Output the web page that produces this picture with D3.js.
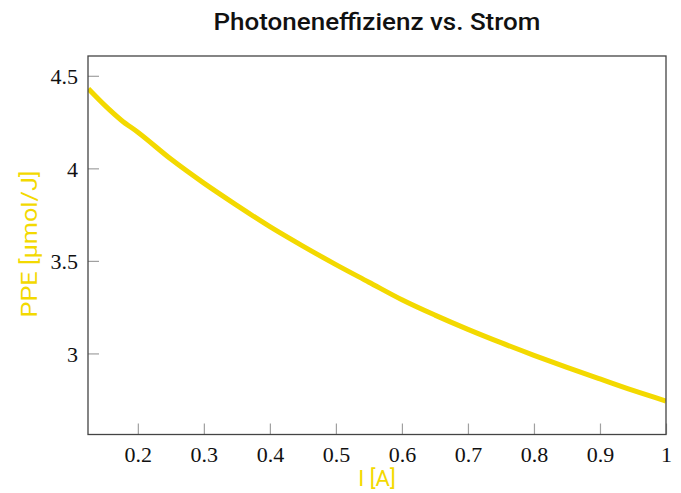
<!DOCTYPE html>
<html>
<head>
<meta charset="utf-8">
<script src="https://cdn.jsdelivr.net/npm/d3@7"></script>
<style>
  html, body { margin: 0; padding: 0; background: #fff; }
  svg { display: block; }
</style>
</head>
<body>
<svg id="chart" width="681" height="493"></svg>
<script>
const current = [0.125, 0.15, 0.175, 0.2, 0.25, 0.3, 0.35, 0.4, 0.45, 0.5, 0.55, 0.6, 0.65, 0.7, 0.75, 0.8, 0.85, 0.9, 0.95, 1.0];
const ppe     = [4.43, 4.34, 4.26, 4.195, 4.05, 3.92, 3.80, 3.685, 3.58, 3.48, 3.385, 3.29, 3.207, 3.13, 3.058, 2.99, 2.925, 2.862, 2.80, 2.743];
const xTicks = [0.2, 0.3, 0.4, 0.5, 0.6, 0.7, 0.8, 0.9, 1];
const yTicks = [3, 3.5, 4, 4.5];
const title = "Photoneneffizienz vs. Strom";
const xLabel = "I [A]";
const yLabel = "PPE [µmol/J]";

const svg = d3.select("#chart");
const m = { left: 88, right: 666, top: 56, bottom: 434.5 };
const yellow = "#f3d900";

const x = d3.scaleLinear().domain([0.1245, 1]).range([m.left, m.right]);
const y = d3.scaleLinear().domain([2.562, 4.607]).range([m.bottom, m.top]);

const xAxis = d3.axisBottom(x).tickValues(xTicks).tickSize(-11).tickPadding(12)
  .tickFormat(d => d === 1 ? "1" : d3.format(".1f")(d));
const yAxis = d3.axisLeft(y).tickValues(yTicks).tickSize(-11).tickPadding(10)
  .tickFormat(d => Number.isInteger(d) ? String(d) : d3.format(".1f")(d));

const gx = svg.append("g").attr("transform", `translate(0,${m.bottom})`).call(xAxis);
const gy = svg.append("g").attr("transform", `translate(${m.left},0)`).call(yAxis);
[gx, gy].forEach(g => {
  g.select(".domain").remove();
  g.selectAll(".tick line").attr("stroke", "#a0a0a0").attr("stroke-width", 1.2);
  g.selectAll(".tick text")
    .attr("fill", "#111")
    .style("font-family", "'Liberation Serif', 'DejaVu Serif', serif")
    .style("font-size", "22px");
});
gx.selectAll(".tick text").attr("dy", "0.71em");
gy.selectAll(".tick text").attr("dy", "0.35em");

svg.append("clipPath").attr("id", "clip").append("rect")
  .attr("x", m.left).attr("y", m.top).attr("width", m.right - m.left).attr("height", m.bottom - m.top);

const line = d3.line().x((d, i) => x(current[i])).y(d => y(d)).curve(d3.curveMonotoneX);
svg.append("path")
  .datum(ppe)
  .attr("d", line)
  .attr("fill", "none")
  .attr("stroke", yellow)
  .attr("stroke-width", 5)
  .attr("stroke-linejoin", "round")
  .attr("clip-path", "url(#clip)");

svg.append("rect")
  .attr("x", m.left).attr("y", m.top).attr("width", m.right - m.left).attr("height", m.bottom - m.top)
  .attr("fill", "none").attr("stroke", "#444").attr("stroke-width", 1.3);

svg.append("text")
  .attr("x", (m.left + m.right) / 2).attr("y", 29.5)
  .attr("text-anchor", "middle")
  .attr("textLength", 327).attr("lengthAdjust", "spacingAndGlyphs")
  .style("font-family", "Roboto, 'DejaVu Sans', sans-serif")
  .style("font-weight", "500")
  .style("font-size", "23.5px")
  .attr("fill", "#111")
  .text(title);

svg.append("text")
  .attr("x", (m.left + m.right) / 2).attr("y", 486)
  .attr("text-anchor", "middle")
  .style("font-family", "Roboto, 'DejaVu Sans', sans-serif")
  .style("font-size", "22px")
  .attr("fill", yellow)
  .text(xLabel);

svg.append("text")
  .attr("transform", `translate(37,244) rotate(-90)`)
  .attr("text-anchor", "middle")
  .attr("textLength", 147).attr("lengthAdjust", "spacingAndGlyphs")
  .style("font-family", "Roboto, 'DejaVu Sans', sans-serif")
  .style("font-size", "22px")
  .attr("fill", yellow)
  .text(yLabel);
</script>
</body>
</html>
